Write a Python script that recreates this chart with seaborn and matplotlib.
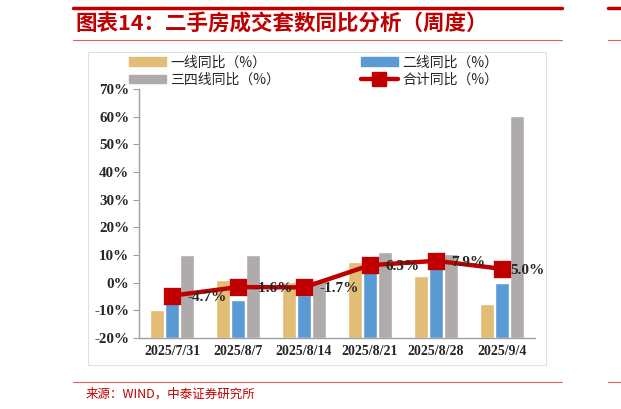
import matplotlib
matplotlib.use("Agg")
import matplotlib.pyplot as plt
from matplotlib.patches import Patch, Rectangle
from matplotlib.lines import Line2D
import seaborn as sns
import pandas as pd

dates = ["2025/7/31", "2025/8/7", "2025/8/14", "2025/8/21", "2025/8/28", "2025/9/4"]
tier1 = [-10.0, 0.8, 0.4, 7.4, 2.3, -7.7]
tier2 = [-7.2, -6.1, -4.3, 5.0, 6.0, 0.0]
tier34 = [10.0, 10.0, 1.0, 11.0, 10.4, 60.1]
total = [-4.7, -1.6, -1.7, 6.3, 7.9, 5.0]
series_names = ["一线同比（%）", "二线同比（%）", "三四线同比（%）"]
total_name = "合计同比（%）"
yticks = [-20, -10, 0, 10, 20, 30, 40, 50, 60, 70]

colors = ["#E2BD76", "#5B9BD5", "#AFABAB"]
red = "#C00000"
ymin, ymax = -20, 70

df = pd.DataFrame({
    "date": dates * 3,
    "series": [series_names[0]] * 6 + [series_names[1]] * 6 + [series_names[2]] * 6,
    "value": tier1 + tier2 + tier34,
})

sns.set_style("white")
plt.rcParams["font.family"] = ["Noto Sans CJK SC", "DejaVu Sans"]

fig = plt.figure(figsize=(6.21, 4.09), dpi=100)
ax = fig.add_axes([139 / 621, 1 - 338 / 409, 396 / 621, 249 / 409])

sns.barplot(data=df, x="date", y="value", hue="series", palette=colors,
            width=0.69, gap=0.06, saturation=1, legend=False, ax=ax)
# excel style: bars grow from the bottom of the axis
for cont in ax.containers:
    for bar in cont:
        h = bar.get_height()
        bar.set_y(ymin)
        bar.set_height(h - ymin)

sns.pointplot(x=dates, y=total, color=red, marker="s", markersize=10,
              linewidth=3.2, ax=ax)

serif = dict(family="Liberation Serif", weight="bold", size=10)
yfont = dict(family="Liberation Serif", weight="bold", size=10.8)
lab_font = dict(family="Liberation Serif", weight="bold", size=11)
for i, v in enumerate(total):
    dx = 6 if i == len(total) - 1 else 11
    ax.annotate(f"{v:.1f}%", (i, v), xytext=(dx, -1), textcoords="offset points",
                ha="left", va="center", **lab_font)

ax.set_ylim(ymin, ymax)
ax.set_xlim(-0.5, len(dates) - 0.5)
ax.set_yticks(yticks)
ax.set_yticklabels([f"{t}%" for t in yticks], fontdict=yfont)
ax.set_xticks(range(len(dates)))
ax.set_xticklabels(dates, fontdict=serif)
ax.set_xticks([i - 0.5 for i in range(len(dates) + 1)], minor=True)
ax.tick_params(axis="x", which="major", length=0, pad=5)
ax.tick_params(axis="x", which="minor", length=4, color="#A0A0A0", direction="out")
ax.tick_params(axis="y", length=4, color="#A0A0A0", direction="out", pad=3, left=True)
ax.set_xlabel("")
ax.set_ylabel("")
for s in ["top", "right"]:
    ax.spines[s].set_visible(False)
for s in ["left", "bottom"]:
    ax.spines[s].set_color("#A0A0A0")
    ax.spines[s].set_linewidth(1.0)
ax.grid(False)

handles = [Patch(color=colors[0]), Patch(color=colors[1]), Patch(color=colors[2]),
           Line2D([], [], color=red, lw=3.2, marker="s", markersize=10)]
labels = [series_names[0], series_names[1], series_names[2], total_name]
order = [0, 2, 1, 3]
fig.legend([handles[k] for k in order], [labels[k] for k in order], ncol=2,
           loc="upper left", bbox_to_anchor=(116 / 621, 1 - 43 / 409), frameon=False,
           prop={"size": 10}, handlelength=2.7, handleheight=0.6, columnspacing=5.8,
           labelspacing=0.25, handletextpad=0.3)

# chart frame
fig.patches.append(Rectangle((88 / 621, 1 - 365 / 409), 458 / 621, 313 / 409,
                             transform=fig.transFigure, fill=False,
                             edgecolor="#E0E0E0", lw=0.8))

# report header and footer
fig.add_artist(Line2D([73 / 621, 562 / 621], [1 - 8 / 409] * 2, color=red, lw=2.5))
fig.add_artist(Line2D([608 / 621, 1.0], [1 - 8 / 409] * 2, color=red, lw=2.5))
fig.add_artist(Line2D([73 / 621, 562 / 621], [1 - 40 / 409] * 2, color="#E06060", lw=0.8))
fig.add_artist(Line2D([608 / 621, 1.0], [1 - 40 / 409] * 2, color="#E06060", lw=0.8))
fig.text(75 / 621, 1 - 24 / 409, "图表14：二手房成交套数同比分析（周度）", color=red,
         fontsize=15.5, weight="bold", style="italic", va="center", ha="left")
fig.add_artist(Line2D([73 / 621, 562 / 621], [1 - 382 / 409] * 2, color="#E06060", lw=0.8))
fig.add_artist(Line2D([608 / 621, 1.0], [1 - 382 / 409] * 2, color="#E06060", lw=0.8))
fig.text(86 / 621, 1 - 394 / 409, "来源：WIND，中泰证券研究所", color=red,
         fontsize=9, va="center", ha="left")

fig.savefig("out.png", dpi=100)
